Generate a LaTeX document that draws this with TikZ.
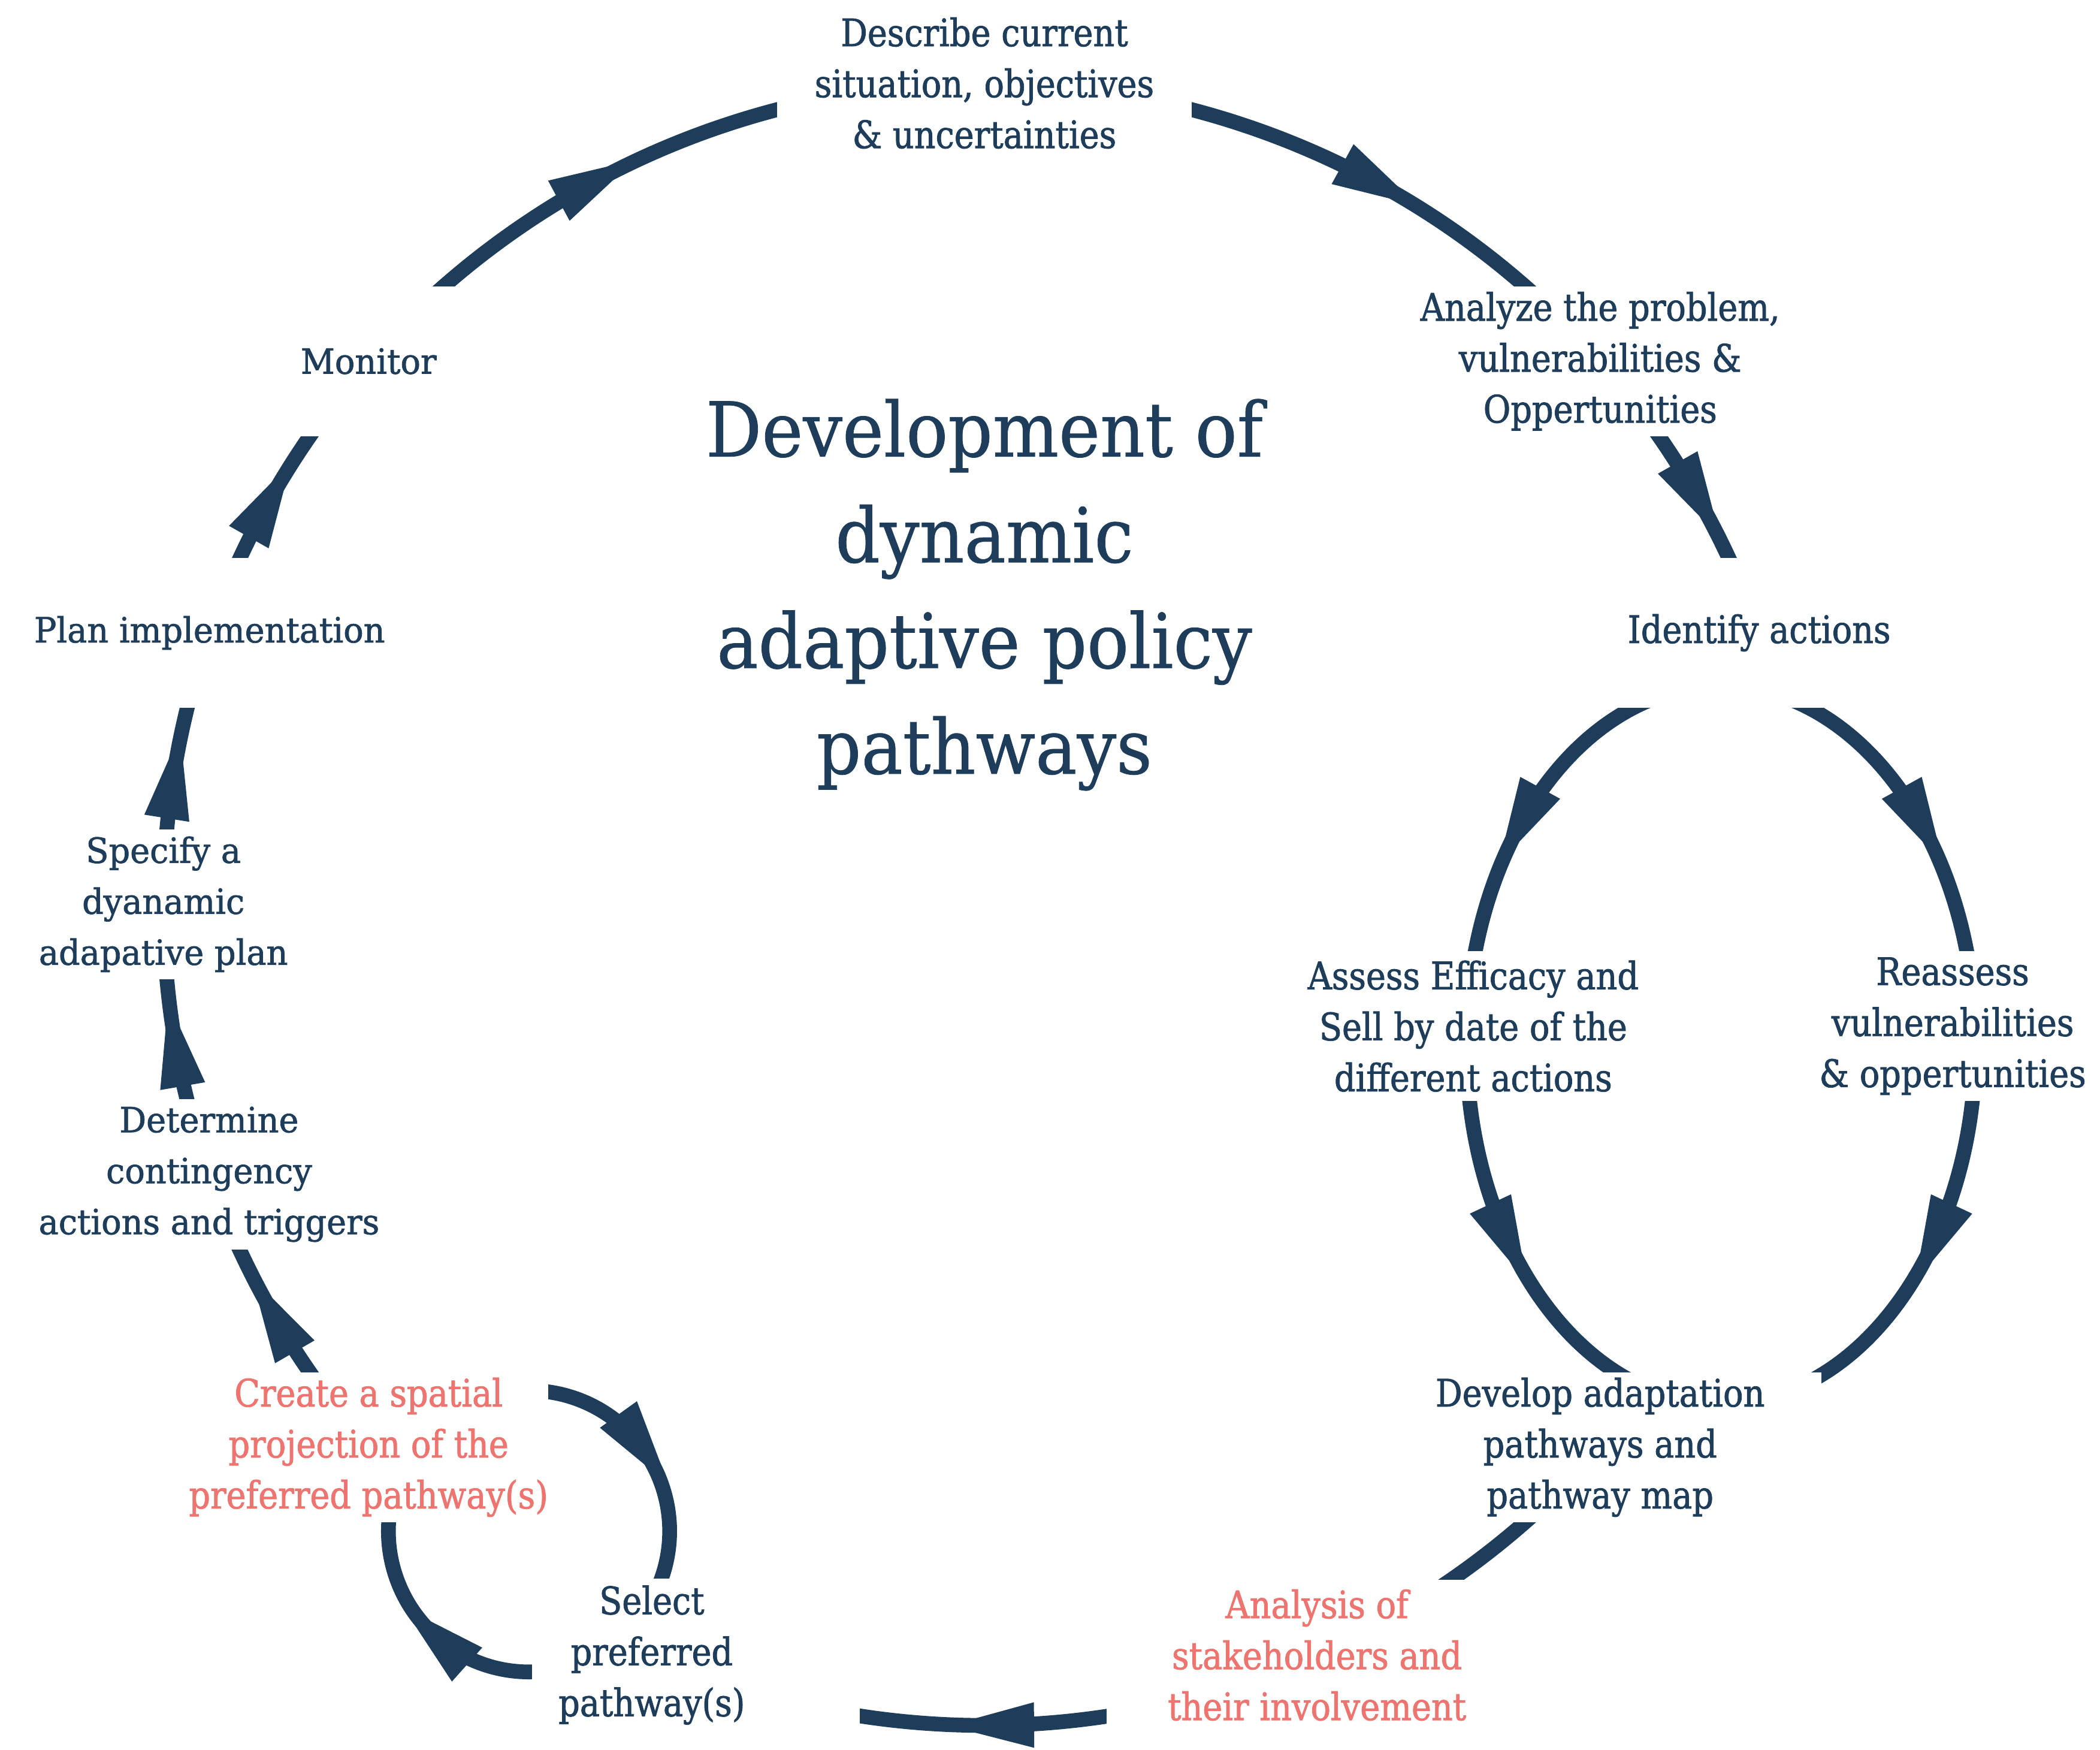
\documentclass[tikz,border=0pt]{standalone}
\usepackage{fontspec}
\newfontfamily\narrowfont[FakeStretch=0.88, FakeBold=1.3]{DejaVu Serif}
\newfontfamily\widefont[FakeStretch=0.96, FakeBold=1.3]{DejaVu Serif}
\newfontfamily\titlefont[FakeStretch=0.92, FakeBold=0.6]{DejaVu Serif}
\usetikzlibrary{decorations.markings}
\definecolor{navy}{HTML}{1E3D5A}
\definecolor{salmon}{HTML}{EE7470}
\newdimen\dpx \dpx=0.022353cm
\pgfdeclarelayer{background}
\pgfsetlayers{background,main}
\tikzset{
  boxbase/.style={fill=white, inner sep=0pt, text=navy, minimum height=112\dpx},
  lbl/.style={boxbase, align=center},
  nfont/.style={font=\narrowfont\fontsize{18}{24.2}\selectfont},
  wfont/.style={font=\widefont\fontsize{16.5}{24.2}\selectfont},
  conn/.style={draw=navy, line width=11\dpx},
  arrowat/.style={postaction={decorate},
    decoration={markings, mark=at position #1 with {\fill[navy] (-32,-17) -- (32,0) -- (-32,17) -- cycle;}}},
}
\begin{document}
\begin{tikzpicture}[x=0.022353cm, y=0.022353cm]
\useasboundingbox (0,0) rectangle (1568,1306);
\begin{pgfonlayer}{background}
\fill[white] (0,0) rectangle (1568,1306);
\end{pgfonlayer}
\coordinate (C) at (735,631);
\coordinate (E) at (1285,526);
\coordinate (S) at (395,163);

% nodes on the main circle
\node[lbl, nfont, minimum width=310\dpx] (desc) at ([shift={(90:613)}]C)
  {Describe current\\situation, objectives\\\& uncertainties};
\node[lbl, nfont, minimum width=300\dpx] (analyze) at ([shift={(41.4:613)}]C)
  {Analyze the problem,\\vulnerabilities \&\\Oppertunities};
\node[lbl, nfont, minimum width=240\dpx] (identify) at ([shift={(19.3:613)}]C)
  {Identify actions};
\node[lbl, nfont, minimum width=280\dpx] (assess) at (1100,540)
  {Assess Efficacy and\\Sell by date of the\\different actions};
\node[lbl, nfont, minimum width=220\dpx] (reassess) at (1458,540)
  {Reassess\\vulnerabilities\\\& oppertunities};
\node[lbl, nfont, minimum width=330\dpx] (develop) at ([shift={(-41.4:613)}]C)
  {Develop adaptation\\pathways and\\pathway map};
\node[lbl, nfont, text=salmon, minimum width=314\dpx] (analysis) at ([shift={(-66.1:613)}]C)
  {Analysis of\\stakeholders and\\their involvement};
\node[boxbase, nfont, minimum width=245\dpx] (select) at ([shift={(246.1:613)}, xshift=33\dpx]C)
  {\hspace*{-66\dpx}\begin{tabular}{@{}c@{}}Select\\preferred\\pathway(s)\end{tabular}};
\node[lbl, nfont, text=salmon, minimum width=268\dpx] (create) at ([shift={(221.4:613)}]C)
  {Create a spatial\\projection of the\\preferred pathway(s)};
\node[lbl, wfont, minimum width=280\dpx] (determine) at ([shift={(199.2:613)}]C)
  {Determine\\contingency\\actions and triggers};
\node[lbl, wfont, minimum width=240\dpx] (specify) at ([shift={(180:613)}]C)
  {Specify a\\dyanamic\\adapative plan};
\node[lbl, wfont, minimum width=300\dpx] (plan) at ([shift={(160.7:613)}]C)
  {Plan implementation};
\node[lbl, wfont, minimum width=200\dpx] (monitor) at ([shift={(138.6:613)}]C)
  {Monitor};

\node[text=navy, align=center, font=\titlefont\fontsize{36}{50.2}\selectfont] (title) at (735,862)
  {Development of\\dynamic\\adaptive policy\\pathways};

% hidden start points of the inner loops
\coordinate (identify-out) at ([shift={(90:190 and 268)}]E);
\coordinate (assess-out) at ([shift={(180:190 and 268)}]E);
\coordinate (reassess-out) at ([shift={(0:190 and 268)}]E);
\coordinate (create-out) at ([shift={(100:105)}]S);
\coordinate (select-out) at ([shift={(-75:105)}]S);

\begin{pgfonlayer}{background}
% main circle
\draw[conn, arrowat=0.420] (monitor.center) arc[start angle=138.6, end angle=90, radius=613];
\draw[conn, arrowat=0.593] (desc.center) arc[start angle=90, end angle=41.4, radius=613];
\draw[conn, arrowat=0.538] (analyze.center) arc[start angle=41.4, end angle=19.3, radius=613];
\draw[conn] (develop.center) arc[start angle=-41.4, end angle=-66.1, radius=613];
\draw[conn, arrowat=0.490] (analysis.center) arc[start angle=-66.1, end angle=-113.9, radius=613];
\draw[conn, arrowat=0.514] (create.center) arc[start angle=221.4, end angle=199.2, radius=613];
\draw[conn, arrowat=0.490] (determine.center) arc[start angle=199.2, end angle=180, radius=613];
\draw[conn, arrowat=0.466] (specify.center) arc[start angle=180, end angle=160.7, radius=613];
\draw[conn, arrowat=0.462] (plan.center) arc[start angle=160.7, end angle=138.6, radius=613];
% double loop on the right
\draw[conn, arrowat=0.53] (identify-out) arc[start angle=90, end angle=180, x radius=190, y radius=268];
\draw[conn, arrowat=0.53] (identify-out) arc[start angle=90, end angle=0, x radius=190, y radius=268];
\draw[conn, arrowat=0.42] (assess-out) arc[start angle=180, end angle=270, x radius=190, y radius=268];
\draw[conn, arrowat=0.42] (reassess-out) arc[start angle=0, end angle=-90, x radius=190, y radius=268];
% small loop at the bottom left
\draw[conn, arrowat=0.46] (create-out) arc[start angle=100, end angle=-40, radius=105];
\draw[conn, arrowat=0.455] (select-out) arc[start angle=-75, end angle=-200, radius=105];
\end{pgfonlayer}
\end{tikzpicture}
\end{document}
